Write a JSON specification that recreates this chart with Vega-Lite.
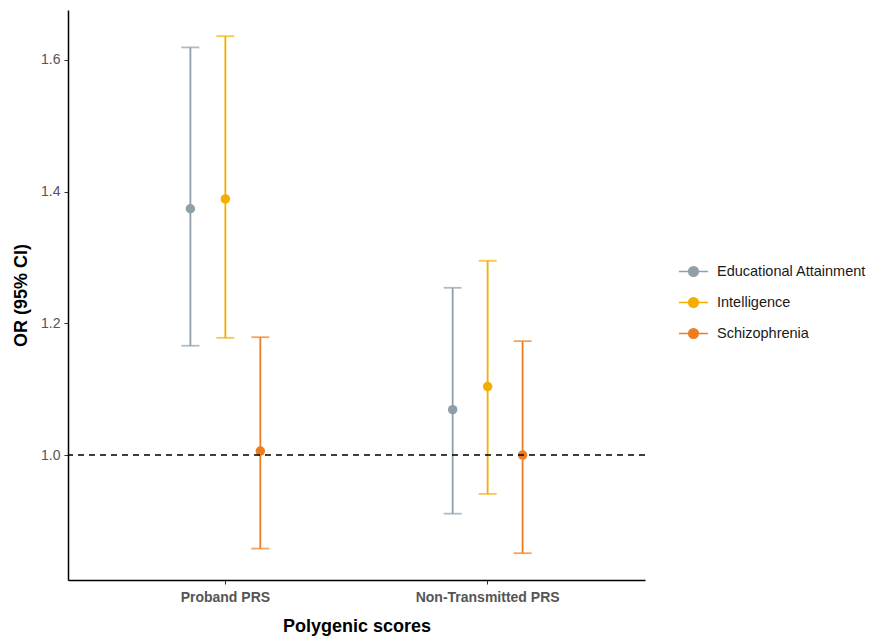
{
  "$schema": "https://vega.github.io/schema/vega-lite/v6.json",
  "width": 577,
  "height": 570,
  "autosize": {"type": "none"},
  "padding": {"left": 68, "top": 10, "right": 232, "bottom": 58},
  "background": "white",
  "config": {
    "view": {"stroke": null},
    "font": "Liberation Sans"
  },
  "datasets": {
    "or": [
      {"score": "Proband PRS", "trait": "Educational Attainment", "or": 1.374, "lo": 1.166, "hi": 1.619},
      {"score": "Proband PRS", "trait": "Intelligence", "or": 1.389, "lo": 1.178, "hi": 1.636},
      {"score": "Proband PRS", "trait": "Schizophrenia", "or": 1.006, "lo": 0.858, "hi": 1.179},
      {"score": "Non-Transmitted PRS", "trait": "Educational Attainment", "or": 1.069, "lo": 0.911, "hi": 1.254},
      {"score": "Non-Transmitted PRS", "trait": "Intelligence", "or": 1.104, "lo": 0.941, "hi": 1.295},
      {"score": "Non-Transmitted PRS", "trait": "Schizophrenia", "or": 1.0, "lo": 0.851, "hi": 1.173}
    ],
    "ref": [{"y": 1.0}]
  },
  "layer": [
    {
      "data": {"name": "or"},
      "encoding": {
        "x": {
          "field": "score", "type": "nominal",
          "sort": ["Proband PRS", "Non-Transmitted PRS"],
          "scale": {"paddingInner": 0.6, "paddingOuter": 0.4},
          "axis": {
            "title": "Polygenic scores",
            "labelAngle": 0,
            "labelFont": "Liberation Sans",
            "labelFontSize": 14,
            "labelFontWeight": "bold",
            "labelColor": "#555555",
            "labelPadding": 6,
            "domainColor": "#000000",
            "domainWidth": 1.5,
            "tickColor": "#333333",
            "tickSize": 4,
            "titleFont": "Liberation Sans",
            "titleFontSize": 18,
            "titleFontWeight": "bold",
            "titleColor": "#000000",
            "titlePadding": 13
          }
        },
        "xOffset": {
          "field": "trait", "type": "nominal",
          "sort": ["Educational Attainment", "Intelligence", "Schizophrenia"],
          "scale": {"paddingInner": 0, "paddingOuter": 0}
        },
        "color": {
          "field": "trait", "type": "nominal",
          "sort": ["Educational Attainment", "Intelligence", "Schizophrenia"],
          "scale": {"domain": ["Educational Attainment", "Intelligence", "Schizophrenia"], "range": ["#8e9fa9", "#f3ae00", "#ee7d21"]},
          "legend": {
            "title": null,
            "orient": "none",
            "legendX": 610,
            "legendY": 246,
            "symbolType": "M-1,0H1M-0.33,0A0.33,0.33 0 1,1 0.33,0A0.33,0.33 0 1,1 -0.33,0Z",
            "symbolSize": 850,
            "symbolStrokeWidth": 1.5,
            "labelFont": "Liberation Sans",
            "labelFontSize": 14.5,
            "labelColor": "#1a1a1a",
            "labelOffset": 8,
            "rowPadding": 7,
            "encode": {
              "symbols": {
                "update": {
                  "fill": {"scale": "color", "field": "value"},
                  "stroke": {"scale": "color", "field": "value"},
                  "opacity": {"value": 1}
                }
              }
            }
          }
        }
      },
      "layer": [
        {
          "mark": {"type": "rule", "strokeWidth": 1.8},
          "encoding": {
            "y": {
              "field": "lo", "type": "quantitative",
              "scale": {"domain": [0.8103, 1.6758], "nice": false, "zero": false},
              "axis": {
                "title": "OR (95% CI)",
                "values": [1.0, 1.2, 1.4, 1.6],
                "format": ".1f",
                "grid": false,
                "labelFont": "Liberation Sans",
                "labelFontSize": 14,
                "labelColor": "#555555",
                "labelPadding": 4,
                "domainColor": "#000000",
                "domainWidth": 1.5,
                "tickColor": "#333333",
                "tickSize": 4,
                "titleFont": "Liberation Sans",
                "titleFontSize": 18,
                "titleFontWeight": "bold",
                "titleColor": "#000000",
                "titlePadding": 10
              }
            },
            "y2": {"field": "hi"}
          }
        },
        {
          "mark": {"type": "tick", "size": 18, "thickness": 1.8},
          "encoding": {"y": {"field": "lo", "type": "quantitative"}}
        },
        {
          "mark": {"type": "tick", "size": 18, "thickness": 1.8},
          "encoding": {"y": {"field": "hi", "type": "quantitative"}}
        },
        {
          "mark": {"type": "circle", "size": 90, "opacity": 1},
          "encoding": {"y": {"field": "or", "type": "quantitative"}}
        }
      ]
    },
    {
      "data": {"name": "ref"},
      "mark": {"type": "rule", "color": "#000000", "strokeDash": [6, 5], "strokeWidth": 1.5},
      "encoding": {"y": {"field": "y", "type": "quantitative"}}
    }
  ]
}
